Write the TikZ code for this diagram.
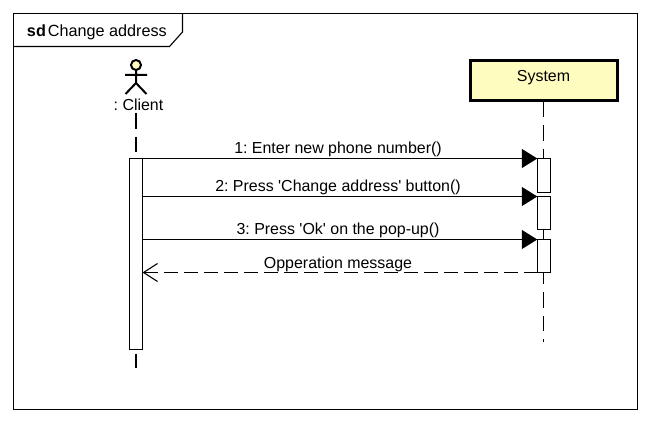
\documentclass[tikz,border=0pt]{standalone}
\usepackage{fontspec}
\setmainfont{Liberation Sans}
\usetikzlibrary{arrows.meta}
\frenchspacing
\tikzset{
  x=1pt,y=-1pt,
  every node/.style={font=\fontsize{15.95}{18}\selectfont,inner sep=0pt,outer sep=0pt},
  life/.style={line width=1.1pt,dash pattern=on 15.5pt off 8pt},
  act/.style={draw=black,fill=white,line width=1.1pt,minimum width=13pt,anchor=north,inner sep=0pt},
  msg/.style={line width=1.1pt,-{Triangle[length=15.5pt,width=19pt,fill=black]},shorten >=0.2pt},
  ret/.style={line width=1.1pt,dash pattern=on 14pt off 6pt,-{Straight Barb[length=14pt,width=18pt,line width=1.1pt]}},
  lbl/.style={anchor=base}
}
\begin{document}
\begin{tikzpicture}
\useasboundingbox[fill=white] (0,0) rectangle (650,422);
% frame
\node[draw=black,line width=1.1pt,minimum width=624pt,minimum height=396pt,anchor=north west] (frame) at (13.5,13.5) {};
\coordinate (t1) at (182.5,13.5);
\coordinate (t2) at (182.5,32);
\coordinate (t3) at (169.5,46.5);
\coordinate (t4) at (13.5,46.5);
\draw[line width=1.1pt] (t1) -- (t2) -- (t3) -- (t4);
\node[anchor=base west,font=\fontsize{16.2}{18}\selectfont] (title) at (27,36.5) {\textbf{sd}\kern2pt Change address};
% actor
\node[draw=black,fill=yellow!25!white,circle,line width=2pt,minimum size=10pt] (head) at (136,65) {};
\coordinate (neck) at (136,70);
\coordinate (hip) at (136,83);
\coordinate (armL) at (125,75);
\coordinate (armR) at (147,75);
\coordinate (legL) at (125.5,94);
\coordinate (legR) at (146.5,94);
\draw[line width=2pt] (neck) -- (hip) (armL) -- (armR) (legL) -- (hip) -- (legR);
\node[anchor=base] (client) at (138.5,110.5) {: Client};
% system
\node[draw=black,fill=yellow!25!white,line width=3pt,minimum width=147pt,minimum height=40pt,anchor=north west] (sys) at (470.5,60.5) {};
\node[anchor=base] (systxt) at (543.5,81.5) {System};
% lifelines
\coordinate (c0) at (136,113.5);
\coordinate (c1) at (136,158);
\coordinate (c2) at (136,353.5);
\coordinate (c3) at (136,368);
\coordinate (s0) at (543.5,102);
\coordinate (s1) at (543.5,158);
\coordinate (s2) at (543.5,229.5);
\coordinate (s3) at (543.5,239);
\coordinate (s4) at (543.5,268.5);
\coordinate (s5) at (543.5,342);
\draw[life] (c0) -- (c1) (c2) -- (c3);
\draw[life] (s0) -- (s1) (s2) -- (s3) (s4) -- (s5);
% activations
\node[act,minimum height=191pt] (ac) at (136,158.5) {};
\node[act,minimum height=34pt] (a1) at (544,158.5) {};
\node[act,minimum height=33pt] (a2) at (544,196.5) {};
\node[act,minimum height=33pt] (a3) at (544,239.5) {};
% messages
\coordinate (f1) at (142.5,158.5);
\coordinate (f2) at (142.5,196.5);
\coordinate (f3) at (142.5,239.5);
\coordinate (g4) at (537.5,272.5);
\coordinate (h4) at (142.5,272.5);
\draw[msg] (f1) -- (f1-|a1.west);
\draw[msg] (f2) -- (f2-|a2.west);
\draw[msg] (f3) -- (f3-|a3.west);
\draw[ret] (g4) -- (h4);
\node[lbl] (m1) at (338,154) {1: Enter new phone number()};
\node[lbl] (m2) at (338,192) {2: Press \textquotesingle Change address\textquotesingle{} button()};
\node[lbl] (m3) at (338,234.5) {3: Press \textquotesingle Ok\textquotesingle{} on the pop-up()};
\node[lbl] (m4) at (338,268) {Opperation message};
\end{tikzpicture}
\end{document}
